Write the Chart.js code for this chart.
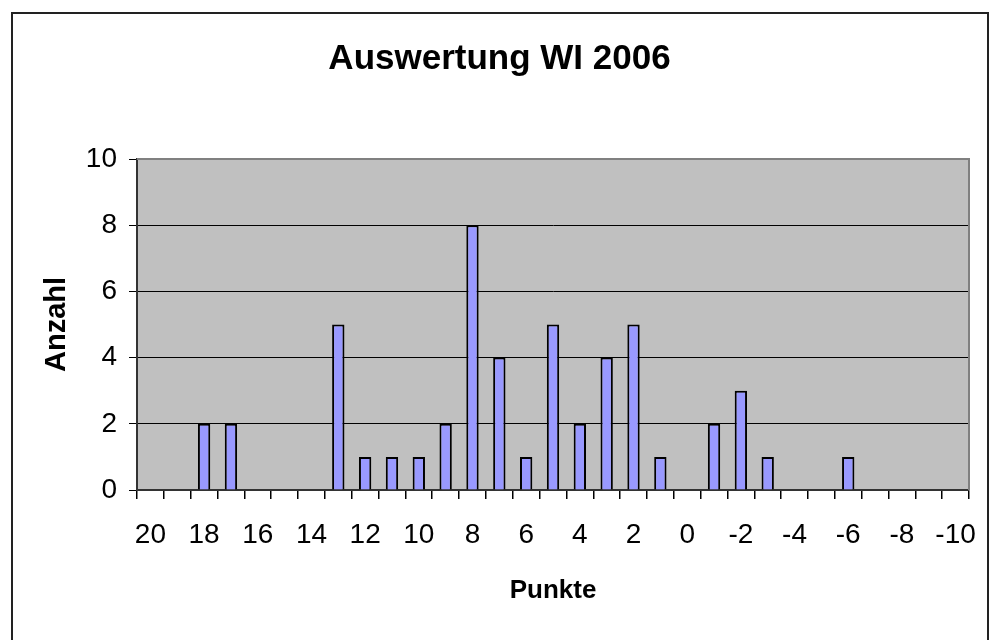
<!DOCTYPE html>
<html lang="de">
<head>
    <meta charset="UTF-8">
    <title>Auswertung WI 2006</title>
    <script src="https://cdn.jsdelivr.net/npm/chart.js"></script>
    <style>
        body {
            margin: 0;
            background: #fff;
            font-family: 'Liberation Sans', Arial, sans-serif;
        }
        .wrap {
            position: relative;
            width: 989px;
            height: 640px;
            overflow: hidden;
        }
        .frame {
            position: absolute;
            left: 11px;
            top: 12px;
            width: 978px;
            height: 700px;
            border: 2px solid #222;
            box-sizing: border-box;
            pointer-events: none;
        }
        canvas {
            position: absolute;
            left: 0;
            top: 0;
        }
    </style>
</head>
<body>
<div class="wrap">
    <canvas id="chart" width="989" height="640"></canvas>
    <div class="frame"></div>
</div>

<script>
    // Punkte (x categories), from 20 down to -10
    const punkte = [20, 19, 18, 17, 16, 15, 14, 13, 12, 11, 10, 9, 8, 7, 6, 5, 4, 3, 2, 1, 0,
                    -1, -2, -3, -4, -5, -6, -7, -8, -9, -10];
    // Anzahl per Punkte
    const anzahl = [0, 0, 2, 2, 0, 0, 0, 5, 1, 1, 1, 2, 8, 4, 1, 5, 2, 4, 5, 1, 0,
                    2, 3, 1, 0, 0, 1, 0, 0, 0, 0];
    const yTicks = [0, 2, 4, 6, 8, 10];

    // grey plot area, top/right edge in darker grey
    const plotArea = {
        id: 'plotArea',
        beforeDraw(chart) {
            const { ctx, chartArea: a } = chart;
            ctx.save();
            ctx.fillStyle = '#C0C0C0';
            ctx.fillRect(a.left, a.top, a.right - a.left, a.bottom - a.top);
            ctx.restore();
        },
        beforeDatasetsDraw(chart) {
            const { ctx, chartArea: a } = chart;
            ctx.save();
            ctx.strokeStyle = '#808080';
            ctx.lineWidth = 2;
            ctx.beginPath();
            ctx.moveTo(a.left, a.top);
            ctx.lineTo(a.right, a.top);
            ctx.lineTo(a.right, a.bottom);
            ctx.stroke();
            ctx.restore();
        }
    };

    new Chart(document.getElementById('chart'), {
        type: 'bar',
        data: {
            labels: punkte.map(String),
            datasets: [{
                label: 'Anzahl',
                data: anzahl,
                backgroundColor: '#9999FF',
                borderColor: '#000',
                borderWidth: 2,
                barPercentage: 0.46,
                categoryPercentage: 1
            }]
        },
        options: {
            responsive: false,
            animation: false,
            devicePixelRatio: 1,
            layout: { padding: { left: 30, right: 20, top: 0, bottom: 0 } },
            plugins: {
                legend: { display: false },
                tooltip: { enabled: false },
                title: {
                    display: true,
                    text: 'Auswertung WI 2006',
                    color: '#000',
                    font: { family: 'Liberation Sans', size: 35, weight: 'bold', lineHeight: 1.2 },
                    padding: { top: 38, bottom: 79 }
                }
            },
            scales: {
                x: {
                    afterFit(scale) {
                        scale.height = 150;
                        scale.paddingLeft = 0;
                        scale.paddingRight = 0;
                    },
                    grid: {
                        drawOnChartArea: false,
                        drawTicks: true,
                        tickLength: 9,
                        color: '#000',
                        lineWidth: 1.5
                    },
                    border: { display: true, color: '#333', width: 2 },
                    ticks: {
                        autoSkip: false,
                        maxRotation: 0,
                        color: '#000',
                        padding: 19,
                        font: { family: 'Liberation Sans', size: 28 },
                        callback: (v, i) => (punkte[i] % 2 === 0 ? String(punkte[i]) : '')
                    },
                    title: {
                        display: true,
                        text: 'Punkte',
                        color: '#000',
                        font: { family: 'Liberation Sans', size: 26, weight: 'bold', lineHeight: 1.2 },
                        padding: { top: 0, bottom: 34 }
                    }
                },
                y: {
                    min: 0,
                    max: 10,
                    afterFit(scale) { scale.width = 107; },
                    afterBuildTicks(scale) { scale.ticks = yTicks.map(v => ({ value: v })); },
                    grid: {
                        color: ctx => (ctx.tick && ctx.tick.value === 10 ? '#808080' : '#000'),
                        tickColor: '#000',
                        tickLength: 8,
                        lineWidth: 1
                    },
                    border: { display: true, color: '#333', width: 2 },
                    ticks: {
                        color: '#000',
                        padding: 12,
                        font: { family: 'Liberation Sans', size: 28 }
                    },
                    title: {
                        display: true,
                        text: 'Anzahl',
                        color: '#000',
                        font: { family: 'Liberation Sans', size: 29, weight: 'bold', lineHeight: 1.2 },
                        padding: { top: 10, bottom: 0 }
                    }
                }
            }
        },
        plugins: [plotArea]
    });
</script>
</body>
</html>
